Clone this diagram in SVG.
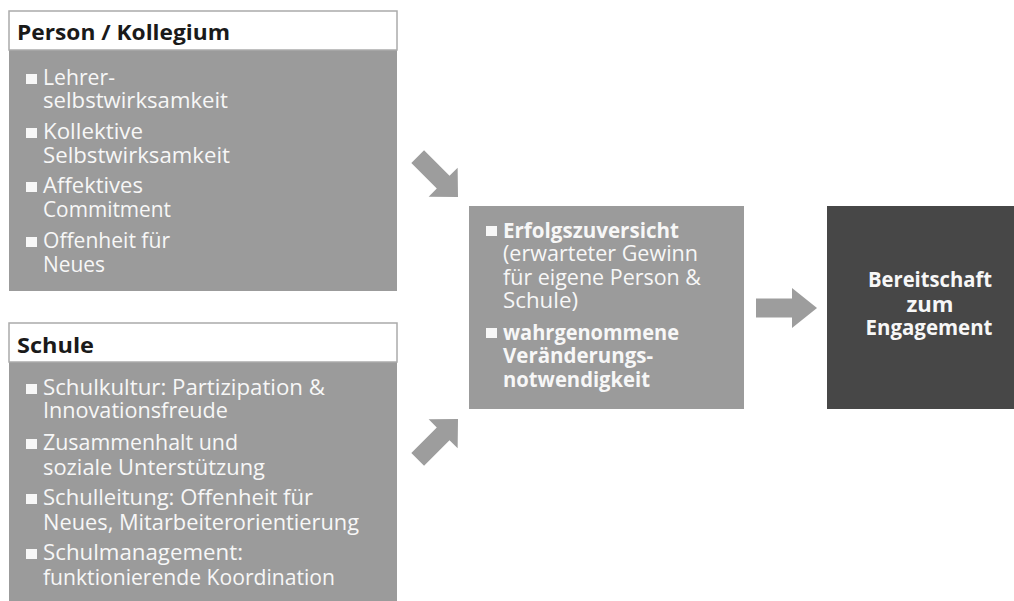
<svg xmlns="http://www.w3.org/2000/svg" width="1014" height="601" viewBox="0 0 1014 601">
<defs>
<style>
.body{fill:#9b9b9b}
.hdr{fill:#ffffff;stroke:#ababab;stroke-width:1.5}
.ht{font-family:"Open Sans","Liberation Sans",sans-serif;font-weight:700;font-size:22px;fill:#1a1a1a}
.t{font-family:"Open Sans","Liberation Sans",sans-serif;font-weight:500;font-size:22px;fill:#f7f7f7}
.tb{font-family:"Open Sans","Liberation Sans",sans-serif;font-weight:700;font-size:21px;fill:#f7f7f7}
.bul{fill:#f7f7f7}
.arr{fill:#9d9d9d}
</style>
<path id="diag" d="M-57,-9 H-21 V-20.5 L0,0 L-21,20.5 V9 H-57 Z"/>
</defs>
<rect width="1014" height="601" fill="#ffffff"/>

<g id="person-kollegium">
<rect class="body" x="9" y="11" width="388" height="280"/>
<rect class="hdr" x="9" y="11" width="388" height="39"/>
<text class="ht" x="17" y="40" textLength="213" lengthAdjust="spacingAndGlyphs">Person / Kollegium</text>
<rect class="bul" x="26" y="74" width="11" height="10"/>
<text class="t" x="43" y="85" textLength="72" lengthAdjust="spacingAndGlyphs">Lehrer-</text>
<text class="t" x="43" y="108" textLength="185" lengthAdjust="spacingAndGlyphs">selbstwirksamkeit</text>
<rect class="bul" x="26" y="128" width="11" height="10"/>
<text class="t" x="43" y="139" textLength="100" lengthAdjust="spacingAndGlyphs">Kollektive</text>
<text class="t" x="43" y="163" textLength="187" lengthAdjust="spacingAndGlyphs">Selbstwirksamkeit</text>
<rect class="bul" x="26" y="182" width="11" height="10"/>
<text class="t" x="43" y="193" textLength="100" lengthAdjust="spacingAndGlyphs">Affektives</text>
<text class="t" x="43" y="217" textLength="128" lengthAdjust="spacingAndGlyphs">Commitment</text>
<rect class="bul" x="26" y="237" width="11" height="10"/>
<text class="t" x="43" y="248" textLength="127" lengthAdjust="spacingAndGlyphs">Offenheit für</text>
<text class="t" x="43" y="272" textLength="62" lengthAdjust="spacingAndGlyphs">Neues</text>
</g>

<g id="schule">
<rect class="body" x="9" y="323" width="388" height="278"/>
<rect class="hdr" x="9" y="323" width="388" height="39"/>
<text class="ht" x="17" y="353" textLength="77" lengthAdjust="spacingAndGlyphs">Schule</text>
<rect class="bul" x="26" y="384" width="11" height="10"/>
<text class="t" x="43" y="395" textLength="282" lengthAdjust="spacingAndGlyphs">Schulkultur: Partizipation &amp;</text>
<text class="t" x="43" y="418" textLength="185" lengthAdjust="spacingAndGlyphs">Innovationsfreude</text>
<rect class="bul" x="26" y="439" width="11" height="10"/>
<text class="t" x="43" y="450" textLength="195" lengthAdjust="spacingAndGlyphs">Zusammenhalt und</text>
<text class="t" x="43" y="475" textLength="222" lengthAdjust="spacingAndGlyphs">soziale Unterstützung</text>
<rect class="bul" x="26" y="494" width="11" height="10"/>
<text class="t" x="43" y="505" textLength="270" lengthAdjust="spacingAndGlyphs">Schulleitung: Offenheit für</text>
<text class="t" x="43" y="530" textLength="316" lengthAdjust="spacingAndGlyphs">Neues, Mitarbeiterorientierung</text>
<rect class="bul" x="26" y="549" width="11" height="10"/>
<text class="t" x="43" y="560" textLength="200" lengthAdjust="spacingAndGlyphs">Schulmanagement:</text>
<text class="t" x="43" y="585" textLength="292" lengthAdjust="spacingAndGlyphs">funktionierende Koordination</text>
</g>

<g id="erfolgszuversicht">
<rect class="body" x="469" y="206" width="275" height="203"/>
<rect class="bul" x="486" y="226" width="11" height="10"/>
<text class="tb" x="503" y="238" textLength="176" lengthAdjust="spacingAndGlyphs">Erfolgszuversicht</text>
<text class="t" x="503" y="261" textLength="195" lengthAdjust="spacingAndGlyphs">(erwarteter Gewinn</text>
<text class="t" x="503" y="285" textLength="198" lengthAdjust="spacingAndGlyphs">für eigene Person &amp;</text>
<text class="t" x="503" y="308" textLength="75" lengthAdjust="spacingAndGlyphs">Schule)</text>
<rect class="bul" x="486" y="328" width="11" height="10"/>
<text class="tb" x="503" y="340" textLength="176" lengthAdjust="spacingAndGlyphs">wahrgenommene</text>
<text class="tb" x="503" y="363" textLength="150" lengthAdjust="spacingAndGlyphs">Veränderungs-</text>
<text class="tb" x="503" y="387" textLength="147" lengthAdjust="spacingAndGlyphs">notwendigkeit</text>
</g>

<g id="bereitschaft">
<rect x="827" y="206" width="187" height="203" fill="#474747"/>
<text class="tb" x="930" y="287" text-anchor="middle" textLength="124" lengthAdjust="spacingAndGlyphs">Bereitschaft</text>
<text class="tb" x="930" y="312" text-anchor="middle" textLength="47" lengthAdjust="spacingAndGlyphs">zum</text>
<text class="tb" x="929" y="335" text-anchor="middle" textLength="127" lengthAdjust="spacingAndGlyphs">Engagement</text>
</g>

<g id="connectors">
<use class="arr" href="#diag" transform="translate(458,197) rotate(45)"/>
<use class="arr" href="#diag" transform="translate(458,419) rotate(-45)"/>
<path class="arr" d="M756,298.5 H792 V288 L817,308 L792,328 V317.5 H756 Z"/>
</g>
</svg>
